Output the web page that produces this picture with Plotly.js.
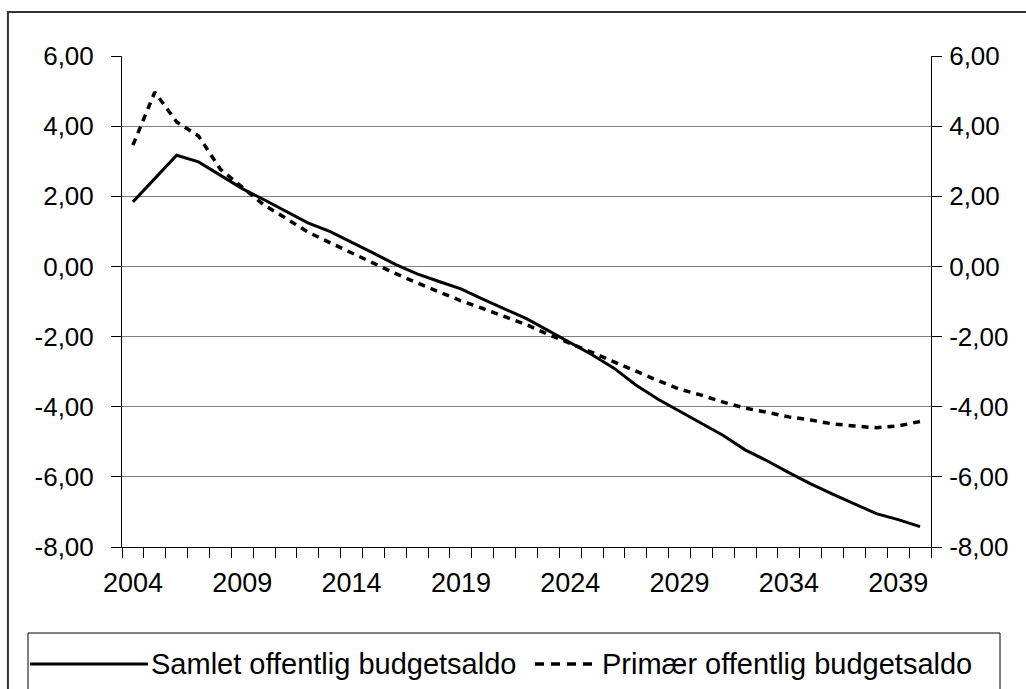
<!DOCTYPE html>
<html>
<head>
<meta charset="utf-8">
<script src="https://cdn.plot.ly/plotly-3.0.1.min.js"></script>
<style>
html,body{margin:0;padding:0;background:#fff;}
#chart{width:1026px;height:689px;}
</style>
</head>
<body>
<div id="chart"></div>
<script>
// ---- data ----
const years = [2004,2005,2006,2007,2008,2009,2010,2011,2012,2013,2014,2015,2016,2017,2018,2019,2020,2021,2022,2023,2024,2025,2026,2027,2028,2029,2030,2031,2032,2033,2034,2035,2036,2037,2038,2039,2040];
const samlet = [1.84,2.50,3.17,2.98,2.60,2.22,1.90,1.58,1.24,1.00,0.70,0.38,0.06,-0.21,-0.43,-0.64,-0.93,-1.20,-1.49,-1.83,-2.17,-2.52,-2.90,-3.38,-3.78,-4.12,-4.46,-4.82,-5.23,-5.54,-5.88,-6.20,-6.49,-6.76,-7.05,-7.22,-7.42];
const primaer = [3.46,4.97,4.12,3.72,2.77,2.25,1.75,1.37,0.98,0.68,0.38,0.08,-0.20,-0.47,-0.72,-0.98,-1.20,-1.42,-1.66,-1.94,-2.19,-2.45,-2.72,-2.99,-3.25,-3.50,-3.67,-3.87,-4.04,-4.16,-4.29,-4.38,-4.49,-4.55,-4.60,-4.55,-4.42];
const seriesNames = ['Samlet offentlig budgetsaldo','Primær offentlig budgetsaldo'];
const xTickVals = [2004,2009,2014,2019,2024,2029,2034,2039];
const yTickVals = [-8,-6,-4,-2,0,2,4,6];
const yTickText = ['-8,00','-6,00','-4,00','-2,00','0,00','2,00','4,00','6,00'];

const FONT = 'Liberation Sans, Arial, sans-serif';
const SOLID = {color:'#000', width:3};
const DASHED = {color:'#000', width:3.5, dash:'7px,6px'};

const traces = [
  {x: years, y: samlet, name: seriesNames[0], type:'scatter', mode:'lines',
   line:SOLID, xaxis:'x', yaxis:'y'},
  {x: years, y: primaer, name: seriesNames[1], type:'scatter', mode:'lines',
   line:DASHED, xaxis:'x', yaxis:'y2'}
];

const yCommon = {
  range:[-8,6], tickmode:'array', tickvals:yTickVals, ticktext:yTickText,
  ticks:'outside', ticklen:10, tickcolor:'#000', tickwidth:1,
  showline:true, linecolor:'#000', linewidth:1, zeroline:false,
  tickfont:{family:FONT, size:26, color:'#000'}, fixedrange:true, automargin:false
};

// legend (drawn in paper coordinates, below the plot; box runs off the bottom edge like the source)
const legY = -0.2383;
const legFont = {family:FONT, size:29, color:'#000'};
const layout = {
  width:1026, height:689,
  margin:{l:122, r:95, t:56, b:142, autoexpand:false},
  paper_bgcolor:'#fff', plot_bgcolor:'#fff',
  font:{family:FONT, color:'#000'},
  showlegend:false,
  xaxis:{
    range:[2003.5,2040.5], tickmode:'array', tickvals:xTickVals,
    ticks:'', showline:true, linecolor:'#000', linewidth:1,
    showgrid:false, zeroline:false, automargin:false,
    tickfont:{family:FONT, size:27, color:'#000'},
    ticklabelstandoff:12,
    minor:{tickmode:'linear', tick0:2003.5, dtick:1, ticks:'outside', ticklen:10, tickcolor:'#000', tickwidth:1, showgrid:false}
  },
  yaxis:Object.assign({}, yCommon, {side:'left', showgrid:true, gridcolor:'#808080', gridwidth:1, ticklabelstandoff:12}),
  yaxis2:Object.assign({}, yCommon, {side:'right', overlaying:'y', showgrid:false, ticklabelstandoff:2}),
  shapes:[
    {type:'rect', xref:'paper', yref:'paper', x0:-0.141, x1:1.3, y0:-0.5, y1:1.0896,
     line:{color:'#333', width:2}, fillcolor:'rgba(0,0,0,0)', layer:'below'},
    {type:'rect', xref:'paper', yref:'paper', x0:-0.1162, x1:1.0853, y0:-0.40, y1:-0.1752,
     line:{color:'#000', width:1}, fillcolor:'#fff'},
    {type:'line', xref:'paper', yref:'paper', x0:-0.1137, x1:0.0321, y0:legY, y1:legY, line:SOLID},
    {type:'line', xref:'paper', yref:'paper', x0:0.5105, x1:0.5847, y0:legY, y1:legY,
     line:{color:'#000', width:3.5, dash:'9px,7px'}}
  ],
  annotations:[
    {xref:'paper', yref:'paper', x:0.0334, y:legY, xanchor:'left', yanchor:'middle', showarrow:false,
     text:seriesNames[0], font:legFont},
    {xref:'paper', yref:'paper', x:0.5909, y:legY, xanchor:'left', yanchor:'middle', showarrow:false,
     text:seriesNames[1], font:legFont}
  ]
};

Plotly.newPlot('chart', traces, layout, {staticPlot:true, displayModeBar:false});
</script>
</body>
</html>
